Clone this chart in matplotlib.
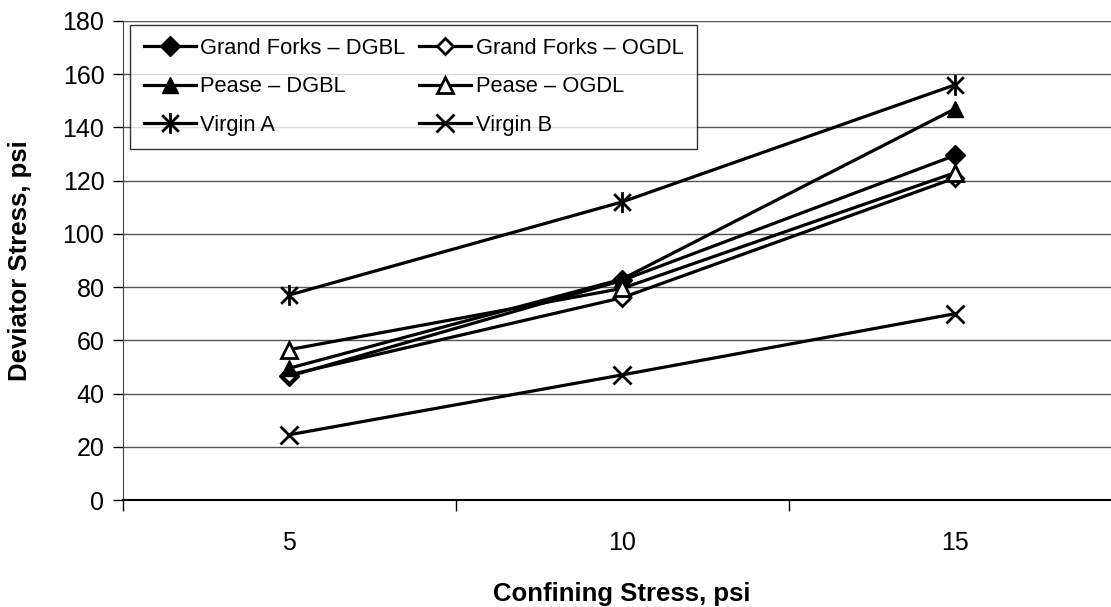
import matplotlib
matplotlib.use("Agg")
import matplotlib.pyplot as plt
from matplotlib.path import Path

plt.rcParams['font.family'] = ['Liberation Sans', 'DejaVu Sans']

confining = ["5", "10", "15"]
gf_dgbl = [46.5, 82.5, 129.5]
gf_ogdl = [47.0, 76.0, 121.0]
pease_dgbl = [49.5, 83.0, 147.0]
pease_ogdl = [56.5, 79.5, 123.0]
virgin_a = [77.0, 112.0, 156.0]
virgin_b = [24.5, 47.0, 70.0]

# six-armed star: vertical bar plus two diagonals
star = Path([(0, -1), (0, 1), (-0.8, -0.8), (0.8, 0.8), (-0.8, 0.8), (0.8, -0.8)],
            [Path.MOVETO, Path.LINETO, Path.MOVETO, Path.LINETO, Path.MOVETO, Path.LINETO])

series = [
    ("Grand Forks – DGBL", gf_dgbl, dict(marker="D", markersize=10, markerfacecolor="black")),
    ("Grand Forks – OGDL", gf_ogdl, dict(marker="D", markersize=8, markerfacecolor="white", markeredgewidth=2)),
    ("Pease – DGBL", pease_dgbl, dict(marker="^", markersize=12, markerfacecolor="black")),
    ("Pease – OGDL", pease_ogdl, dict(marker="^", markersize=11, markerfacecolor="white", markeredgewidth=2)),
    ("Virgin A", virgin_a, dict(marker=star, markersize=15, markeredgewidth=2)),
    ("Virgin B", virgin_b, dict(marker="x", markersize=13, markeredgewidth=2)),
]

fig = plt.figure(figsize=(11.11, 6.07), dpi=100)
ax = fig.add_axes([122.5 / 1111, 1 - 500 / 607, 999 / 1111, 479 / 607])

xs = range(1, len(confining) + 1)
lines = []
for name, vals, style in series:
    ln, = ax.plot(xs, vals, color="black", linewidth=2.3, label=name,
                  markeredgecolor="black", clip_on=False, **style)
    lines.append(ln)

ax.set_xlim(0.5, 3.5)
ax.set_ylim(0, 180)
ax.set_yticks(range(0, 181, 20))
ax.set_xticks([1, 2, 3])
ax.set_xticklabels(confining)
ax.set_xticks([0.5, 1.5, 2.5, 3.5], minor=True)
ax.tick_params(axis="x", which="major", length=0, pad=22, labelsize=18)
ax.tick_params(axis="x", which="minor", length=8, width=1, color="black")
ax.tick_params(axis="y", length=7, width=1, labelsize=18, pad=6)
ax.grid(axis="y", color="#555555", linewidth=1)
ax.set_axisbelow(True)
for side in ("top", "right"):
    ax.spines[side].set_visible(False)
ax.spines["left"].set_color("#444444")
ax.spines["bottom"].set_linewidth(1.5)

ax.set_xlabel("Confining Stress, psi", fontsize=18.5, fontweight="bold", labelpad=20)
ax.set_ylabel("Deviator Stress, psi", fontsize=18.5, fontweight="bold", labelpad=22)

# legend fills column-first, so reorder to read across rows
order = [0, 2, 4, 1, 3, 5]
leg = ax.legend([lines[i] for i in order], [lines[i].get_label() for i in order],
                loc="upper left", bbox_to_anchor=(0.008, 0.992), ncol=2,
                fontsize=15.75, frameon=True, fancybox=False, edgecolor="black",
                handlelength=2.4, handletextpad=0.2, columnspacing=0.6,
                labelspacing=0.8, borderpad=0.6, borderaxespad=0)
leg.get_frame().set_linewidth(1)

fig.savefig("out.png", dpi=100)
